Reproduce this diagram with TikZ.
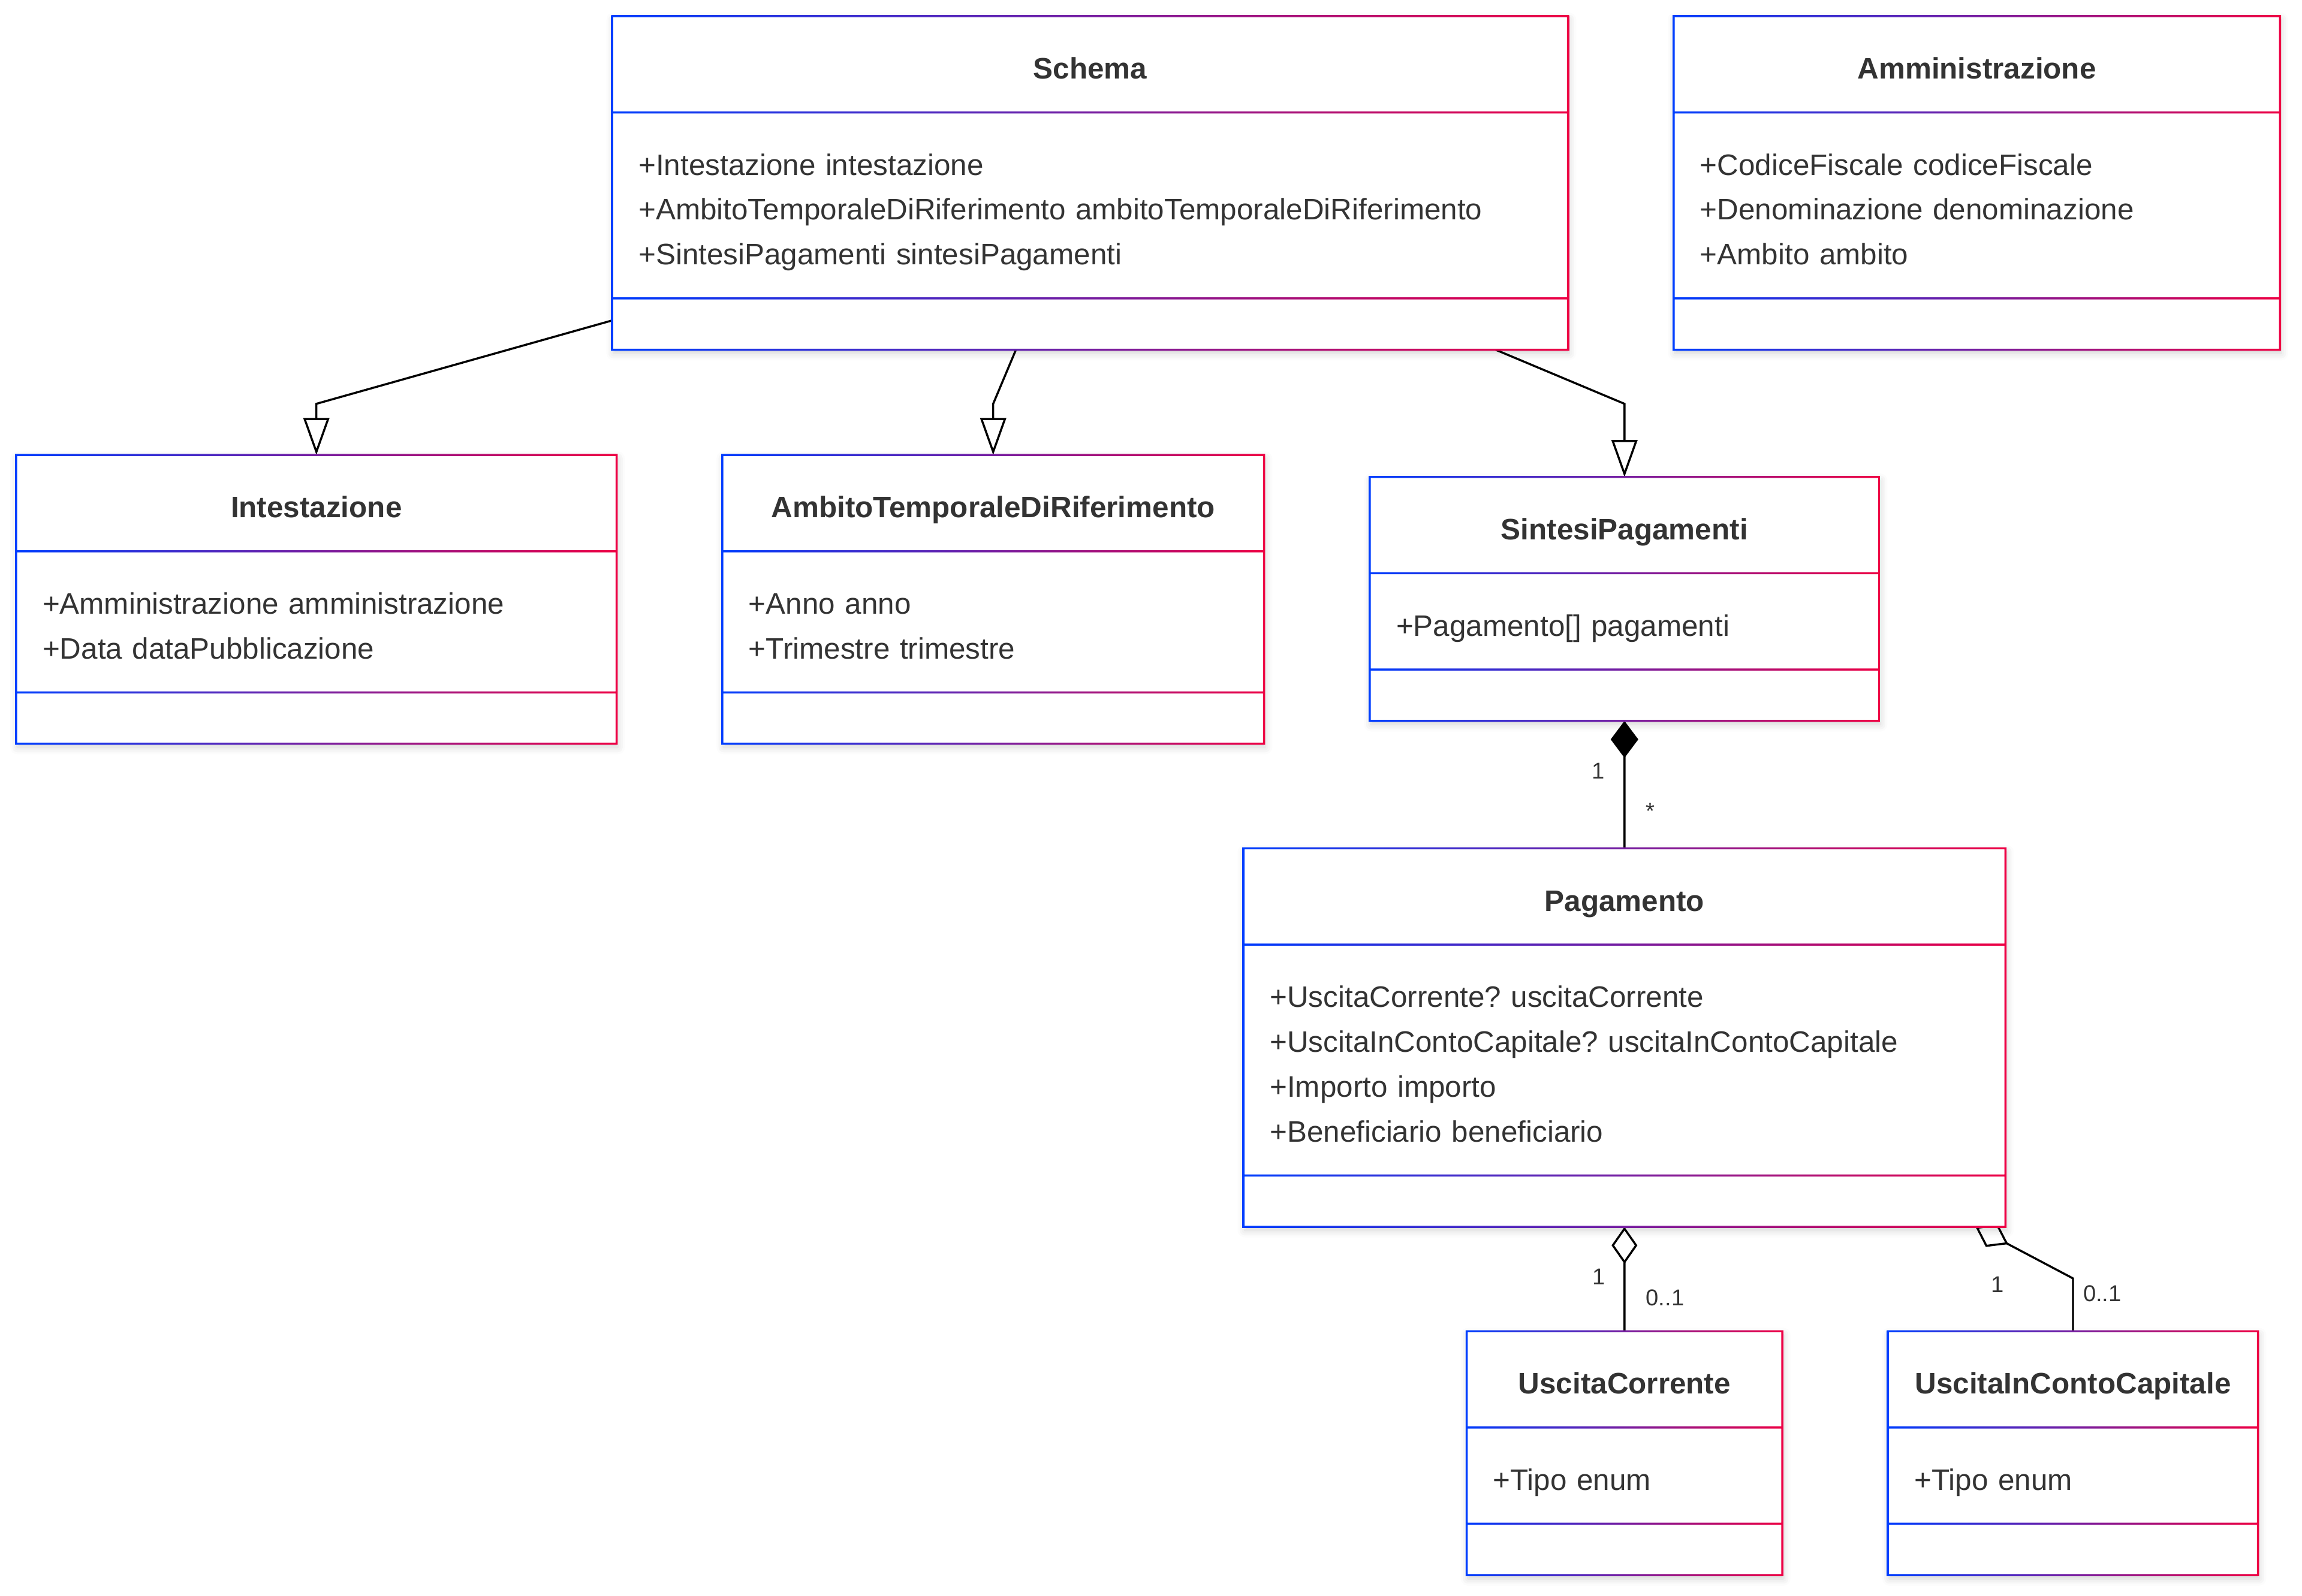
\documentclass[tikz,border=0pt]{standalone}
\usepackage{fontspec}
\setmainfont{Liberation Sans}
\usepackage{tikz}
\usetikzlibrary{calc,arrows.meta,shapes.multipart,backgrounds,shadows.blur}

\definecolor{umlblue}{RGB}{0,62,255}
\definecolor{umlred}{RGB}{238,0,68}
\definecolor{umltext}{RGB}{51,51,51}

% height of one text row in a class box
\newcommand{\rowstrut}{\rule[-3.85pt]{0pt}{21.75pt}}
% centred class name
\newcommand{\clsname}[1]{\makebox[\linewidth]{\bfseries\rowstrut #1}}

\begin{document}
\begin{tikzpicture}[
  cls/.style={rectangle split, rectangle split parts=3, fill=white,
              anchor=north west, align=left, text=umltext,
              font=\fontsize{14.35pt}{21.75pt}\selectfont\frenchspacing,
              inner xsep=0.45cm, inner ysep=12.25pt, outer sep=0pt,
              rectangle split empty part height=0pt,
              blur shadow={shadow xshift=0.02cm, shadow yshift=-0.06cm,
                           shadow blur radius=0.12cm, shadow opacity=18}},
  gradframe/.style={even odd rule, left color=umlblue, right color=umlred},
  inherit/.style={-{Triangle[open, length=0.63cm, width=0.44cm]}, line width=1pt},
  compo/.style={{Diamond[length=0.63cm, width=0.47cm]}-, line width=1pt},
  aggr/.style={{Diamond[open, fill=white, length=0.63cm, width=0.44cm]}-, line width=1pt},
  mult/.style={font=\fontsize{11.1pt}{13pt}\selectfont, text=umltext, inner sep=0pt},
]
\useasboundingbox (0,0) rectangle (39.2,-27.175);

\node[cls, text width=15.375cm] (SC) at (10.425,-0.275) {
  \clsname{Schema}
  \nodepart{two} \rowstrut+Intestazione intestazione \\ \rowstrut+AmbitoTemporaleDiRiferimento ambitoTemporaleDiRiferimento \\ \rowstrut+SintesiPagamenti sintesiPagamenti
  \nodepart{three}
};

\node[cls, text width=9.425cm] (AM) at (28.5,-0.275) {
  \clsname{Amministrazione}
  \nodepart{two} \rowstrut+CodiceFiscale codiceFiscale \\ \rowstrut+Denominazione denominazione \\ \rowstrut+Ambito ambito
  \nodepart{three}
};

\node[cls, text width=9.325cm] (IN) at (0.275,-7.75) {
  \clsname{Intestazione}
  \nodepart{two} \rowstrut+Amministrazione amministrazione \\ \rowstrut+Data dataPubblicazione
  \nodepart{three}
};

\node[cls, text width=8.325cm] (AT) at (12.3,-7.75) {
  \clsname{AmbitoTemporaleDiRiferimento}
  \nodepart{two} \rowstrut+Anno anno \\ \rowstrut+Trimestre trimestre
  \nodepart{three}
};

\node[cls, text width=7.775cm] (SP) at (23.325,-8.125) {
  \clsname{SintesiPagamenti}
  \nodepart{two} \rowstrut+Pagamento[] pagamenti
  \nodepart{three}
};

\node[cls, text width=12.075cm] (PG) at (21.175,-14.45) {
  \clsname{Pagamento}
  \nodepart{two} \rowstrut+UscitaCorrente? uscitaCorrente \\ \rowstrut+UscitaInContoCapitale? uscitaInContoCapitale \\ \rowstrut+Importo importo \\ \rowstrut+Beneficiario beneficiario
  \nodepart{three}
};

\node[cls, text width=4.475cm] (UC) at (24.975,-22.675) {
  \clsname{UscitaCorrente}
  \nodepart{two} \rowstrut+Tipo enum
  \nodepart{three}
};

\node[cls, text width=5.4cm] (UK) at (32.15,-22.675) {
  \clsname{UscitaInContoCapitale}
  \nodepart{two} \rowstrut+Tipo enum
  \nodepart{three}
};

% borders: blue to red
\foreach \n in {SC,AM,IN,AT,SP,PG,UC,UK}
  \shade[gradframe]
    ([shift={(-0.5pt,0.5pt)}]\n.north west) rectangle ([shift={(0.5pt,-0.5pt)}]\n.south east)
    ([shift={(0.5pt,-0.5pt)}]\n.north west) rectangle ([shift={(-0.5pt,0.5pt)}]\n.south east)
    ([shift={(0.5pt,0.5pt)}]\n.text split west) rectangle ([shift={(-0.5pt,-0.5pt)}]\n.text split east)
    ([shift={(0.5pt,0.5pt)}]\n.two split west) rectangle ([shift={(-0.5pt,-0.5pt)}]\n.two split east);

\begin{scope}[on background layer]
\draw[inherit] ([yshift=0.5cm]SC.south west) -- ($(SC.south -| IN.north)+(0,-0.92)$) -- (IN.north);
\draw[inherit] ($(SC.south west)!0.4224!(SC.south east)$) -- ($(SC.south -| AT.north)+(0,-0.92)$) -- (AT.north);
\draw[inherit] ($(SC.south west)!0.9244!(SC.south east)$) -- ($(SC.south -| SP.north)+(0,-0.92)$) -- (SP.north);
\draw[compo] (SP.south) -- (PG.north);
\draw[aggr] (PG.south) -- (UC.north);
\draw[aggr] ([xshift=-0.51cm]PG.south east) -- ($(UK.north)+(0,0.9)$) -- (UK.north);
\end{scope}

\node[mult] (m1) at ($(SP.south)+(-0.45,-0.85)$) {1};
\node[mult] (m2) at ($(PG.north)+(0.44,0.63)$) {*};
\node[mult] (m3) at ($(PG.south)+(-0.44,-0.85)$) {1};
\node[mult] (m4) at ($(UC.north)+(0.69,0.575)$) {0..1};
\node[mult] (m5) at ($(UK.north)+(-1.28,0.79)$) {1};
\node[mult] (m6) at ($(UK.north)+(0.5,0.64)$) {0..1};

\end{tikzpicture}
\end{document}
